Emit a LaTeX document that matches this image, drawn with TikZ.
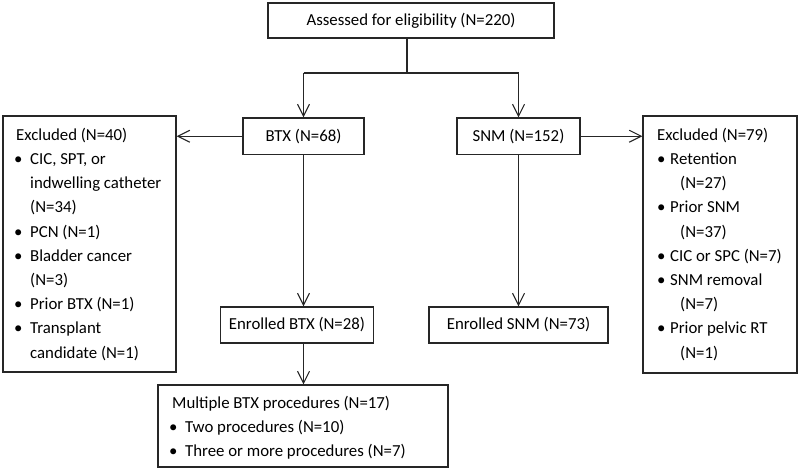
\documentclass[tikz,border=0pt]{standalone}
\usepackage{fontspec}
\setmainfont{Carlito}
\usetikzlibrary{arrows.meta}
\newcommand{\fsz}{\fontsize{16.8}{24.2}\selectfont}
\newcommand{\mybul}[2]{\makebox[#1][l]{\hspace*{#2}•}}
\begin{document}
\begin{tikzpicture}[x=1pt,y=-1pt,
  box/.style={draw=black!85, line width=1.1pt, inner sep=0pt, font=\fsz},
  conn/.style={draw=black!85, line width=1.1pt, -{Straight Barb[length=12pt,width=12pt,line width=1.1pt]}},
  plain/.style={draw=black!85, line width=1.1pt},
  lines/.style={anchor=north west, inner sep=0pt, align=left, font=\fsz},
]
\useasboundingbox (0,0) rectangle (800,470);

% boxes
\node[box, minimum width=286pt, minimum height=35pt] (top) at (411,20.5) {Assessed for eligibility (N=220)};
\node[box, minimum width=121pt, minimum height=36.5pt] (btx) at (303.5,136.25) {BTX (N=68)};
\node[box, minimum width=123pt, minimum height=36.5pt] (snm) at (518.5,136.25) {SNM (N=152)};
\node[box, minimum width=173pt, minimum height=256pt] (exl) at (89.5,244) {};
\node[box, minimum width=154pt, minimum height=257pt] (exr) at (720,244.5) {};
\node[box, minimum width=153pt, minimum height=36pt] (ebtx) at (297,325) {Enrolled BTX (N=28)};
\node[box, minimum width=179pt, minimum height=36pt] (esnm) at (518.5,325) {Enrolled SNM (N=73)};
\node[box, minimum width=290pt, minimum height=82pt] (mb) at (303,426) {};

% texts in list boxes
\node[lines] (exlt) at (16,126) {\rule{0pt}{14pt}Excluded (N=40)\\
\mybul{14pt}{-2pt}CIC, SPT, or\\
\hspace*{14pt}indwelling catheter\\
\hspace*{14pt}(N=34)\\
\mybul{14pt}{-2pt}PCN (N=1)\\
\mybul{14pt}{-2pt}Bladder cancer\\
\hspace*{14pt}(N=3)\\
\mybul{14pt}{-2pt}Prior BTX (N=1)\\
\mybul{14pt}{-2pt}Transplant\\
\hspace*{14pt}candidate (N=1)};

\node[lines] (exrt) at (657,126) {\rule{0pt}{14pt}Excluded (N=79)\\
\mybul{13pt}{0pt}Retention\\
\hspace*{23pt}(N=27)\\
\mybul{13pt}{0pt}Prior SNM\\
\hspace*{23pt}(N=37)\\
\mybul{13pt}{0pt}CIC or SPC (N=7)\\
\mybul{13pt}{0pt}SNM removal\\
\hspace*{23pt}(N=7)\\
\mybul{13pt}{0pt}Prior pelvic RT\\
\hspace*{23pt}(N=1)};

\node[lines] (mbt) at (172,394) {\rule{0pt}{14pt}Multiple BTX procedures (N=17)\\
\mybul{13pt}{-3pt}Two procedures (N=10)\\
\mybul{13pt}{-3pt}Three or more procedures (N=7)};

% connectors
\coordinate (j) at (407,73);
\draw[plain] (top.south -| j) -- (j);
\draw[plain] (btx.north |- j) -- (snm.north |- j);
\draw[conn] (btx.north |- j) -- (btx.north);
\draw[conn] (snm.north |- j) -- (snm.north);
\draw[conn] (btx.west) -- (exl.east |- btx.west);
\draw[conn] (snm.east) -- (exr.west |- snm.east);
\draw[conn] (btx.south) -- (btx.south |- ebtx.north);
\draw[conn] (snm.south) -- (snm.south |- esnm.north);
\draw[conn] (btx.south |- ebtx.south) -- (btx.south |- mb.north);
\end{tikzpicture}
\end{document}
